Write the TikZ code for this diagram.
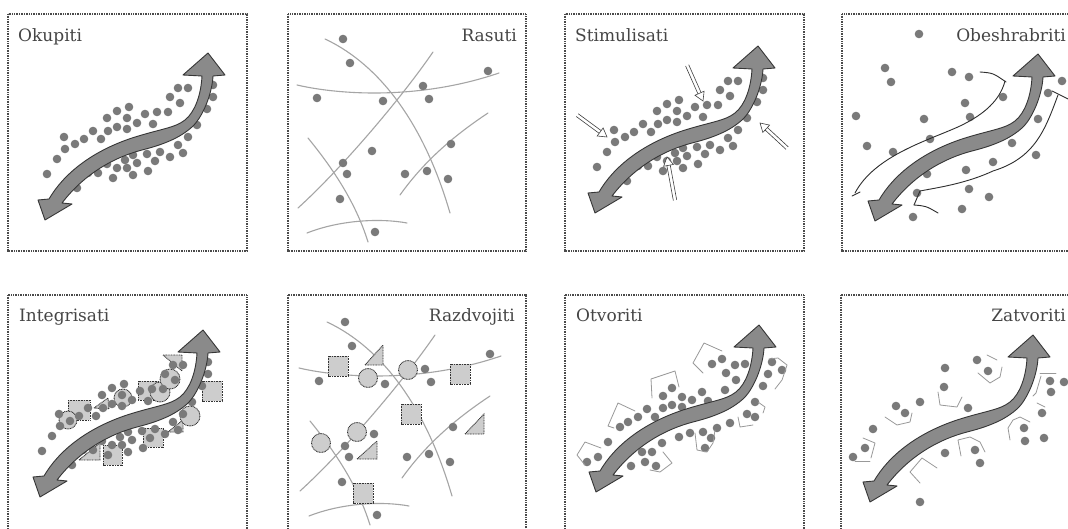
\documentclass[tikz,border=0pt]{standalone}
\usepackage{fontspec}
\newfontfamily\ttlfont{DejaVu Serif}
\usetikzlibrary{arrows.meta}
\definecolor{arrfill}{HTML}{8A8A8A}
\definecolor{arredge}{HTML}{363636}
\definecolor{dotc}{HTML}{7A7A7A}
\definecolor{linec}{HTML}{A5A5A5}
\definecolor{shapec}{HTML}{CDCDCD}
\definecolor{txtc}{HTML}{454545}
\definecolor{framec}{HTML}{4A4A4A}
\definecolor{boxc}{HTML}{999999}
\definecolor{blockc}{HTML}{2E2E2E}
\tikzset{
  panelframe/.style={draw=framec, line width=1.2pt, dash pattern=on 1pt off 0.7pt},
  ttl/.style={text=txtc, font=\ttlfont\fontsize{17}{20}\selectfont, inner sep=0pt},
  thinline/.style={draw=linec, line width=1.1pt, line cap=round},
  boxline/.style={draw=boxc, line width=0.8pt, line cap=round, line join=round},
  blockline/.style={draw=blockc, line width=0.9pt, line cap=round, line join=round},
  shp/.style={fill=shapec, draw=black!80, line width=0.9pt, dash pattern=on 0.9pt off 0.7pt},
  pics/bigarrow/.style={code={
    \filldraw[fill=arrfill, draw=arredge, line width=0.9pt, line join=round]
      (0,0) -- (-7,-20) -- (4,-21)
      .. controls (18,-45) and (45,-68) .. (87,-82)
      .. controls (115,-91) and (130,-92) .. (140,-100)
      .. controls (150,-108) and (156,-125) .. (157,-144)
      -- (138,-145) -- (163,-167) -- (180,-145) -- (168,-144)
      .. controls (167,-125) and (157,-102) .. (147,-93)
      .. controls (138,-85) and (125,-77) .. (97,-70)
      .. controls (70,-63) and (40,-47) .. (17,-17)
      -- (27,-16) -- cycle;
  }},
  pics/clusterdots/.style={code={
    \foreach \x/\y in {178/88,188/88,213/85,213/97,170/97,180/103,207/109,197/125,188/137,178/145,
      183/153,170/157,160/152,147/154,155/161,133/155,137/163,125/160,117/168,107/164,127/168,
      113/178,133/175,148/171,88/173,98/173,77/188,47/174,57/159,65/149,64/137,75/144,84/139,
      93/131,101/139,108/131,107/118,117/127,117/111,129/107,127/118,127/129,137/123,145/114,
      153/124,157/112,168/112}
      \fill[dotc] (\x,\y) circle (4.3);
  }},
  pics/scatterlines/.style={code={
    \draw[thinline] (325,39) .. controls (370,60) and (420,110) .. (450,213);
    \draw[thinline] (297,85) .. controls (340,95) and (420,100) .. (499,73);
    \draw[thinline] (298,208) .. controls (340,170) and (400,100) .. (433,52);
    \draw[thinline] (308,138) .. controls (330,165) and (355,200) .. (368,242);
    \draw[thinline] (400,195) .. controls (425,160) and (455,135) .. (488,113);
    \draw[thinline] (307,233) .. controls (340,220) and (380,218) .. (407,223);
  }},
  pics/scatterdots/.style={code={
    \foreach \x/\y in {343/39,350/63,317/98,383/101,423/86,429/99,488/71,372/151,343/163,
      347/174,340/199,405/174,427/171,451/144,448/179,375/232}
      \fill[dotc] (\x,\y) circle (4.3);
  }},
  pics/stimarrow/.style={code={
    \draw[line width=0.6pt, draw=black!75] (-#1,1.7) -- (-7,1.7) (-#1,-1.7) -- (-7,-1.7);
    \draw[line width=0.6pt, draw=black!75, fill=white, line join=miter] (0,0) -- (-8.5,-5) -- (-8.5,5) -- cycle;
  }}
}
\begin{document}
\begin{tikzpicture}[x=1pt,y=-1pt]
\useasboundingbox (0,0) rectangle (1068,529);
\fill[white] (0,0) rectangle (1068,529);

% frames
\draw[panelframe] (8,14) rectangle (247,251);
\draw[panelframe] (288,14) rectangle (526,251);
\draw[panelframe] (565,14) rectangle (804,251);
\draw[panelframe] (842,14) rectangle (1080,251);
\draw[panelframe] (8,295) rectangle (247,540);
\draw[panelframe] (288,295) rectangle (526,540);
\draw[panelframe] (565,295) rectangle (804,540);
\draw[panelframe] (841,295) rectangle (1080,540);

% titles
\node[ttl, anchor=base west] (t1) at (18,42) {Okupiti};
\node[ttl, anchor=base east] (t2) at (517,42) {Rasuti};
\node[ttl, anchor=base west] (t3) at (575,42) {Stimulisati};
\node[ttl, anchor=base east] (t4) at (1066,41.5) {Obeshrabriti};
\node[ttl, anchor=base west] (t5) at (19,322) {Integrisati};
\node[ttl, anchor=base east] (t6) at (515,322) {Razdvojiti};
\node[ttl, anchor=base west] (t7) at (576,322) {Otvoriti};
\node[ttl, anchor=base east] (t8) at (1066,322) {Zatvoriti};

% panel 1: Okupiti
\pic at (0,0) {clusterdots};
\pic at (45,220) {bigarrow};

% panel 2: Rasuti
\pic at (0,0) {scatterlines};
\pic at (0,0) {scatterdots};

% panel 3: Stimulisati
\pic at (550,-7) {clusterdots};
\pic at (595,213) {bigarrow};
\pic[rotate=-36.3] at (607,137) {stimarrow=37};
\pic[rotate=-66] at (703,101) {stimarrow=39};
\pic[rotate=137.2] at (760,123) {stimarrow=37};
\pic[rotate=100.5] at (667,157) {stimarrow=44};

% panel 4: Obeshrabriti
\foreach \x/\y in {919/34,885/68,891/82,952/72,969/77,1003/97,965/103,970/117,924/119,856/116,
  1062/81,1048/93,1038/119,930/139,867/146,893/152,1012/143,1036/155,993/162,966/170,927/174,
  969/189,989/197,917/193,962/209,913/217}
  \fill[dotc] (\x,\y) circle (4.3);
\draw[blockline] (855,193) .. controls (875,155) and (930,140) .. (960,126) .. controls (985,114) and (1000,100) .. (1005,81);
\draw[blockline] (980,72) .. controls (993,73) .. (1006,82);
\draw[blockline] (852,196) -- (860,192);
\draw[blockline] (1058,95) .. controls (1045,130) and (1035,158) .. (993,171) .. controls (965,184) and (935,188) .. (920,191) -- (914,205);
\draw[blockline] (914,205) .. controls (926,206) .. (938,213);
\draw[blockline] (1052,91) -- (1068,99);
\pic at (875,221) {bigarrow};

% panel 5: Integrisati
\draw[shp] (68,400) rectangle (90,420);
\draw[shp] (138,381) rectangle (159,400);
\draw[shp] (202,381) rectangle (222,401);
\draw[shp] (143,428) rectangle (163,447);
\draw[shp] (103,445) rectangle (122,465);
\draw[shp] (163,355) -- (182,355) -- (182,371) -- cycle;
\draw[shp] (94,408) -- (108,398) -- (109,409) -- cycle;
\draw[shp] (79,460) -- (100,443) -- (100,460) -- cycle;
\draw[shp] (168,432) -- (183,420) -- (183,432) -- cycle;
\draw[shp] (68,420) circle (9);
\draw[shp] (123,398) circle (9);
\draw[shp] (160,392) circle (10);
\draw[shp] (170,379) circle (10);
\draw[shp] (190,416) circle (10);
\pic at (-5,277) {clusterdots};
\pic at (40,497) {bigarrow};

% panel 6: Razdvojiti
\pic at (2,283) {scatterlines};
\draw[shp] (328,356) rectangle (348,376);
\draw[shp] (450,364) rectangle (470,384);
\draw[shp] (401,404) rectangle (421,424);
\draw[shp] (353,483) rectangle (373,503);
\draw[shp] (365,365) -- (383,345) -- (383,365) -- cycle;
\draw[shp] (465,434) -- (484,414) -- (484,434) -- cycle;
\draw[shp] (357,459) -- (377,441) -- (377,459) -- cycle;
\draw[shp] (368,378) circle (9.5);
\draw[shp] (408,370) circle (9.5);
\draw[shp] (357,432) circle (9.5);
\draw[shp] (321,443) circle (9.5);
\pic at (2,283) {scatterdots};

% panel 7: Otvoriti
\foreach \x/\y in {722/359,712/364,735/365,726/373,745/364,736/380,772/362,782/370,768/374,763/386,
  725/390,702/392,708/401,692/400,682/397,672/388,663/396,672/405,663/408,682/407,655/417,647/409,
  638/417,628/422,620/427,608/442,598/457,587/462,755/402,747/414,755/417,730/423,717/428,703/432,
  690/433,711/438,679/437,705/448,662/443,652/452,642/452,645/462,656/466,631/466}
  \fill[dotc] (\x,\y) circle (4.3);
\draw[boxline] (703,373) -- (693,363) -- (704,343) -- (722,351);
\draw[boxline] (652,398) -- (651,379) -- (675,371) -- (679,387);
\draw[boxline] (614,428) -- (608,426) -- (618,403) -- (635,411);
\draw[boxline] (585,465) -- (577,455) -- (585,442) -- (601,448);
\draw[boxline] (769,359) -- (778,358) -- (787,365) -- (782,380) -- (775,389);
\draw[boxline] (738,417) -- (740,427) -- (753,425);
\draw[boxline] (758,402) -- (765,407) -- (763,413);
\draw[boxline] (695,433) -- (697,450) -- (707,452) -- (713,443) -- (715,430);
\draw[boxline] (663,452) -- (672,463) -- (660,472) -- (650,470);
\pic at (596,492) {bigarrow};

% panel 8: Zatvoriti
\foreach \x/\y in {945/368,977/360,988/371,944/387,968/408,920/402,896/406,905/413,873/429,865/448,
  853/457,1050/381,1064/382,1051/392,1042/413,1024/428,1025/441,1044/438,975/450,980/463,945/453,920/502}
  \fill[dotc] (\x,\y) circle (4.3);
\draw[boxline] (863,438) -- (875,443) -- (871,458);
\draw[boxline] (855,461) -- (870,461);
\draw[boxline] (885,417) -- (897,425) -- (910,422) -- (912,413);
\draw[boxline] (938,392) -- (940,405) -- (957,407) -- (962,397);
\draw[boxline] (978,373) -- (990,383) -- (1000,377) -- (1002,367);
\draw[boxline] (987,355) -- (997,360);
\draw[boxline] (1040,373) -- (1056,373);
\draw[boxline] (1041,376) -- (1036,393) -- (1033,396);
\draw[boxline] (1037,403) -- (1045,407);
\draw[boxline] (1010,440) -- (1008,428) -- (1013,420) -- (1020,417) -- (1030,422);
\draw[boxline] (961,456) -- (958,440) -- (970,437) -- (980,442) -- (985,452);
\draw[boxline] (920,483) -- (910,472) -- (922,458) -- (937,468);
\pic at (870,502) {bigarrow};
\end{tikzpicture}
\end{document}
